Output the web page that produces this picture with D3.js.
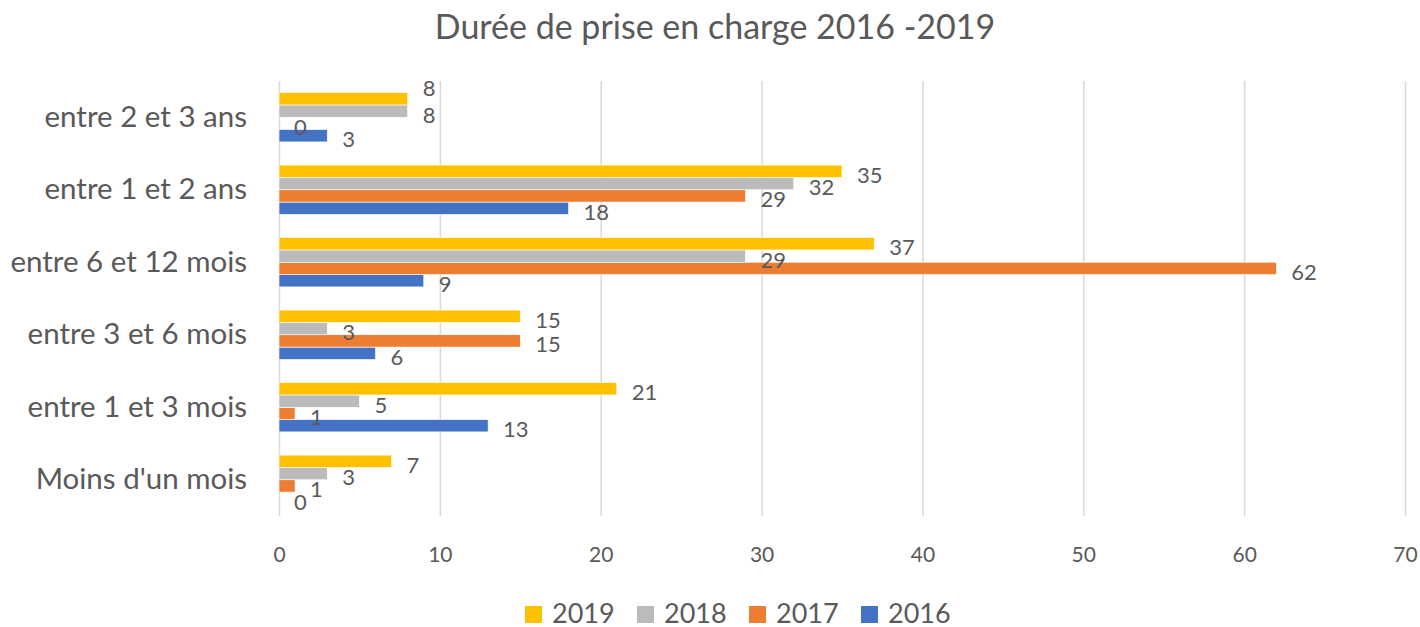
<!DOCTYPE html>
<html>
<head>
<meta charset="utf-8">
<script src="https://cdn.jsdelivr.net/npm/d3@7"></script>
<style>
  body { margin: 0; background: #fff; }
  text { font-family: Lato, "Open Sans", sans-serif; fill: #595959; }
</style>
</head>
<body>
<svg id="chart" width="1420" height="627"></svg>
<script>
// data
const categories = ["Moins d'un mois", "entre 1 et 3 mois", "entre 3 et 6 mois", "entre 6 et 12 mois", "entre 1 et 2 ans", "entre 2 et 3 ans"];
const years = ["2019", "2018", "2017", "2016"];
const values2019 = [7, 21, 15, 37, 35, 8];
const values2018 = [3, 5, 3, 29, 32, 8];
const values2017 = [1, 1, 15, 62, 29, 0];
const values2016 = [0, 13, 6, 9, 18, 3];
const xTicks = [0, 10, 20, 30, 40, 50, 60, 70];
const colors = ["#FFC000", "#BBBBBB", "#ED7D31", "#4472C4"];

const series = [values2019, values2018, values2017, values2016];

const svg = d3.select("svg#chart");
const width = +svg.attr("width");
const margin = { top: 81, right: 15, bottom: 111, left: 279 };
const chartWidth = width - margin.left - margin.right;
const chartHeight = +svg.attr("height") - margin.top - margin.bottom;

const rows = [];
categories.forEach((c, i) => {
    years.forEach((y, j) => rows.push({ cat: c, year: y, idx: j, value: series[j][i], color: colors[j] }));
});

// top category drawn at the top
const catScale = d3.scaleBand().domain(categories.slice().reverse()).range([0, chartHeight]).paddingInner(0.32).paddingOuter(0.16);
const yearScale = d3.scaleBand().domain(years).range([0, catScale.bandwidth()]);
const xScale = d3.scaleLinear().domain([0, 70]).range([0, chartWidth]);

const chartArea = svg.append("g").attr("transform", `translate(${margin.left},${margin.top})`);

// gridlines
const grid = d3.axisBottom(xScale).tickValues(xTicks).tickSize(chartHeight).tickFormat("");
chartArea.append("g").attr("class", "gridlines")
    .call(grid)
    .call(g => g.select(".domain").remove())
    .call(g => g.selectAll("line").attr("stroke", "#d9d9d9").attr("stroke-width", 1.5));

// tick labels
const bottomAxis = d3.axisBottom(xScale).tickValues(xTicks).tickSize(0).tickPadding(0);
chartArea.append("g")
    .attr("transform", `translate(0,${chartHeight + 39})`)
    .call(bottomAxis)
    .call(g => g.select(".domain").remove())
    .call(g => g.selectAll("text").attr("font-size", 21).attr("dy", "0.35em").attr("fill", "#808080"));

// category labels
const leftAxis = d3.axisLeft(catScale).tickSize(0).tickPadding(32);
chartArea.append("g")
    .call(leftAxis)
    .call(g => g.select(".domain").remove())
    .call(g => g.selectAll("text").attr("font-size", 29.5).attr("fill", "#767676"));

// one layer per series, 2016 first: bars then their labels, so a later
// series covers the labels of the earlier ones as in the original
const labelX = d => xScale(d.value) + 15;
const labelShift = d => {
    // lift a label when the one just below it sits at the same place
    const below = rows.find(r => r.cat === d.cat && r.idx === d.idx + 1);
    return below && Math.abs(labelX(below) - labelX(d)) < 12 ? -11 : 3;
};
const layers = chartArea.selectAll("g.series")
    .data(years.slice().reverse())
    .join("g").attr("class", "series");

layers.selectAll("rect.bar")
    .data(y => rows.filter(r => r.year === y))
    .join("rect").attr("class", "bar")
    .attr("x", xScale(0))
    .attr("y", d => catScale(d.cat) + yearScale(d.year))
    .attr("width", d => xScale(d.value) - xScale(0))
    .attr("height", yearScale.bandwidth())
    .attr("fill", d => d.color)
    .attr("stroke", "#fff")
    .attr("stroke-width", 0.6);

layers.selectAll("text.value")
    .data(y => rows.filter(r => r.year === y))
    .join("text").attr("class", "value")
    .attr("x", labelX)
    .attr("y", d => catScale(d.cat) + yearScale(d.year) + yearScale.bandwidth() / 2 + labelShift(d))
    .attr("dominant-baseline", "central")
    .attr("font-size", 22)
    .text(d => d.value);

// title
svg.append("text")
    .attr("x", width / 2 + 5)
    .attr("y", 25)
    .attr("text-anchor", "middle")
    .attr("dominant-baseline", "central")
    .attr("font-size", 34)
    .attr("fill", "#767676")
    .text("Durée de prise en charge 2016 -2019");

// legend
const legend = svg.append("g").attr("transform", "translate(525,612)");
const item = legend.selectAll("g").data(years).join("g")
    .attr("transform", (d, i) => `translate(${i * 112},0)`);
item.append("rect")
    .attr("x", 0).attr("y", -6)
    .attr("width", 17).attr("height", 17)
    .attr("fill", (d, i) => colors[i]);
item.append("text")
    .attr("x", 27).attr("y", 0)
    .attr("dominant-baseline", "central")
    .attr("font-size", 27)
    .attr("fill", "#767676")
    .text(d => d);
</script>
</body>
</html>
